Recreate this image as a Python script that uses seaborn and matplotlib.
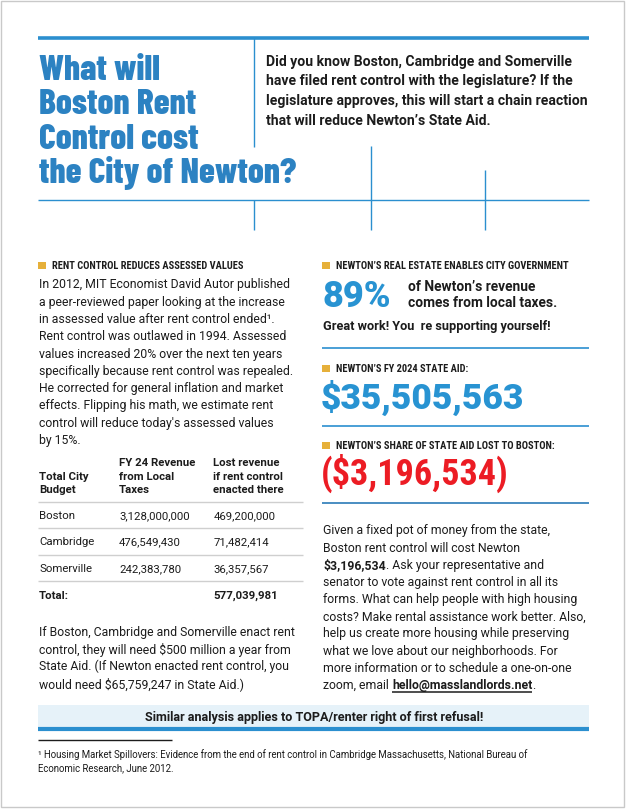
import matplotlib
matplotlib.use("Agg")
import matplotlib.pyplot as plt
from matplotlib.patches import Rectangle
import seaborn as sns

# --- TEXT AND NUMBERS ---
title_lines = ["What will", "Boston Rent", "Control cost", "the City of Newton?"]
intro_lines = [
    "Did you know Boston, Cambridge and Somerville",
    "have filed rent control with the legislature? If the",
    "legislature approves, this will start a chain reaction",
    "that will reduce Newton\u2019s State Aid.",
]

left_header = "RENT CONTROL REDUCES ASSESSED VALUES"
left_body = [
    "In 2012, MIT Economist David Autor published",
    "a peer-reviewed paper looking at the increase",
    "in assessed value after rent control ended\u00b9.",
    "Rent control was outlawed in 1994. Assessed",
    "values increased 20% over the next ten years",
    "specifically because rent control was repealed.",
    "He corrected for general inflation and market",
    "effects. Flipping his math, we estimate rent",
    "control will reduce today's assessed values",
    "by 15%.",
]

table_cols = [
    ["Total City", "Budget"],
    ["FY 24 Revenue", "from Local", "Taxes"],
    ["Lost revenue", "if rent control", "enacted there"],
]
cities = ["Boston", "Cambridge", "Somerville"]
local_taxes = [3128000000, 476549430, 242383780]
lost_revenue = [469200000, 71482414, 36357567]
total_lost = 577039981

state_aid_note = [
    "If Boston, Cambridge and Somerville enact rent",
    "control, they will need $500 million a year from",
    "State Aid. (If Newton enacted rent control, you",
    "would need $65,759,247 in State Aid.)",
]

share_header = "NEWTON\u2019S REAL ESTATE ENABLES CITY GOVERNMENT"
local_share_pct = 89
share_text = ["of Newton\u2019s revenue", "comes from local taxes."]
share_note = "Great work! You  re supporting yourself!"

aid_header = "NEWTON\u2019S FY 2024 STATE AID:"
state_aid = 35505563
loss_header = "NEWTON\u2019S SHARE OF STATE AID LOST TO BOSTON:"
aid_lost = 3196534

cost_lines = [
    [("Given a fixed pot of money from the state,", "normal")],
    [("Boston rent control will cost Newton", "normal")],
    [("$3,196,534", "bold"), (". Ask your representative and", "normal")],
    [("senator to vote against rent control in all its", "normal")],
    [("forms. What can help people with high housing", "normal")],
    [("costs? Make rental assistance work better. Also,", "normal")],
    [("help us create more housing while preserving", "normal")],
    [("what we love about our neighborhoods. For", "normal")],
    [("more information or to schedule a one-on-one", "normal")],
    [("zoom, email ", "normal"), ("hello@masslandlords.net", "link"), (".", "normal")],
]

banner = "Similar analysis applies to TOPA/renter right of first refusal!"
footnote = [
    "\u00b9 Housing Market Spillovers: Evidence from the end of rent control in Cambridge Massachusetts, National Bureau of",
    "Economic Research, June 2012.",
]

# --- STYLE ---
sns.set_theme(style="white")
plt.rcParams["font.family"] = ["Roboto", "DejaVu Sans"]

BLUE = "#2b8fcf"
TITLE_BLUE = "#2c82c2"
BIG_BLUE = "#2893d2"
RED = "#ec1c24"
GOLD = "#e6b03a"
BAND = "#e6f2f9"
INK = "#1c1c1c"
RULE = "#cfcfcf"
TITLE_FONT = ["Barlow Condensed", "Roboto Condensed", "DejaVu Sans"]
HEAD_FONT = ["Roboto Condensed", "Barlow Condensed", "DejaVu Sans"]
BODY = 8.85

fig = plt.figure(figsize=(6.26, 8.09), dpi=100)
ax = fig.add_axes([0, 0, 1, 1])
ax.set_xlim(0, 626)
ax.set_ylim(809, 0)
ax.axis("off")
renderer = fig.canvas.get_renderer()


def header(x, y, s, size=7.5):
    ax.add_patch(Rectangle((x, y - 3.5), 7.5, 7, color=GOLD, lw=0))
    ax.text(x + 14.5, y, s, fontsize=size, fontweight="bold", family=HEAD_FONT,
            color=INK, va="center_baseline")


# page frame
ax.add_patch(Rectangle((1, 1), 623, 806, fill=False, ec="#c9c9c9", lw=1))

# top block
ax.hlines(37.8, 38, 589, color=BLUE, lw=2.6)
ax.vlines(253.5, 38, 147, color=BLUE, lw=1)
for i, line in enumerate(title_lines):
    ax.text(39, 80 + i * 34.3, line, fontsize=25.5, fontweight=800, family=TITLE_FONT,
            color=TITLE_BLUE, va="baseline")
for i, line in enumerate(intro_lines):
    ax.text(266.5, 60 + i * 19.7, line, fontsize=10.1, fontweight="bold",
            color=INK, va="center_baseline")
ax.hlines(200, 38, 589, color=BLUE, lw=1)
ax.vlines(253.5, 200, 230, color=BLUE, lw=1)
ax.vlines(371, 146, 230, color=BLUE, lw=1)
ax.vlines(484.5, 170, 230, color=BLUE, lw=1)

# left column
header(38, 265, left_header, 7.5)
for i, line in enumerate(left_body):
    ax.text(39, 283.3 + i * 17.3, line, fontsize=BODY, color=INK, va="center_baseline")

col_x = [39, 119, 213.3]
for cx, lines in zip(col_x, table_cols):
    top = 489 - (len(lines) - 1) * 13.4
    for j, line in enumerate(lines):
        ax.text(cx, top + j * 13.4, line, fontsize=8.2, fontweight="bold",
                color=INK, va="center_baseline")
ax.hlines(501.7, 38, 303, color=RULE, lw=1)
for i, city in enumerate(cities):
    y = 515 + i * 26.4
    ax.text(col_x[0], y, city, fontsize=8.2, color=INK, va="center_baseline")
    ax.text(col_x[1], y, f"{local_taxes[i]:,}", fontsize=8.2, color=INK, va="center_baseline")
    ax.text(col_x[2], y, f"{lost_revenue[i]:,}", fontsize=8.2, color=INK, va="center_baseline")
    ax.hlines(y + 13.3, 38, 303, color=RULE, lw=1)
ax.text(col_x[0], 595, "Total:", fontsize=8.2, fontweight="bold", color=INK, va="center_baseline")
ax.text(col_x[2], 595, f"{total_lost:,}", fontsize=8.2, fontweight="bold", color=INK,
        va="center_baseline")

for i, line in enumerate(state_aid_note):
    ax.text(39, 631 + i * 17.1, line, fontsize=BODY, color=INK, va="center_baseline")

# right column
header(322, 265, share_header, 7.45)
ax.text(322, 306.5, f"{local_share_pct}%", fontsize=26, fontweight=900,
        color=BIG_BLUE, va="baseline")
for i, line in enumerate(share_text):
    ax.text(407.5, 285.7 + i * 16, line, fontsize=9.9, fontweight="bold",
            color=INK, va="center_baseline")
ax.text(323, 325, share_note, fontsize=9.2, fontweight="bold", color=INK, va="center_baseline")
ax.hlines(348.3, 322, 589, color=BLUE, lw=1.2)

header(322, 368.3, aid_header, 7.45)
ax.text(321, 408.5, f"${state_aid:,}", fontsize=25.5, fontweight=900,
        color=BIG_BLUE, va="baseline")
ax.hlines(426, 322, 589, color=BLUE, lw=1.2)

header(322, 445, loss_header, 7.45)
ax.text(321, 485, f"(${aid_lost:,})", fontsize=26, fontweight="bold", family=HEAD_FONT,
        color=RED, va="baseline")
ax.hlines(502.7, 322, 589, color="#2a7ab8", lw=1.2)

# paragraph with bold runs: each run starts where the previous one ends
for i, parts in enumerate(cost_lines):
    y = 529.3 + i * 17.2
    x = 323
    for s, kind in parts:
        weight = "bold" if kind in ("bold", "link") else "normal"
        t = ax.text(x, y, s, fontsize=BODY, fontweight=weight, color=INK, va="center_baseline")
        bb = t.get_window_extent(renderer)
        if kind == "link":
            ax.hlines(y + 7.5, x, bb.x1, color=INK, lw=1.1)
        x = bb.x1 + 0.3

# banner and footnote
ax.add_patch(Rectangle((38, 705), 551, 22.5, color=BAND, lw=0))
ax.hlines(729, 38, 589, color=BLUE, lw=3)
ax.text(314, 715.7, banner, fontsize=9.1, fontweight="bold", color=INK,
        ha="center", va="center_baseline")
ax.hlines(740, 38, 172, color=INK, lw=1)
for i, line in enumerate(footnote):
    ax.text(38.5, 754 + i * 13.7, line, fontsize=6.9, color=INK, va="center_baseline")

fig.savefig("out.png", dpi=100, facecolor="white")
